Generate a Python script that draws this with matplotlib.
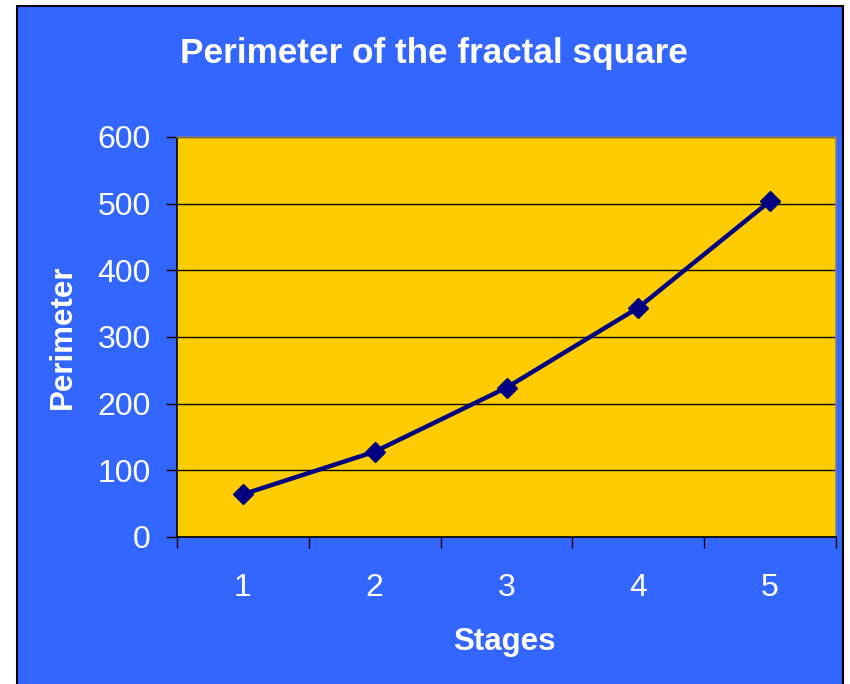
"""Perimeter of the fractal square — Excel-style line chart on blue/yellow."""

import matplotlib
matplotlib.use("Agg")
import matplotlib.pyplot as plt
from matplotlib.patches import Rectangle

# ----------------------------------------------------------------------------
# Data
# ----------------------------------------------------------------------------
STAGES = [1, 2, 3, 4, 5]
PERIMETER = [64, 128, 224, 344, 504]
Y_TICKS = [0, 100, 200, 300, 400, 500, 600]

BLUE = "#3366FF"
YELLOW = "#FFCC00"
NAVY = "#000080"

plt.rcParams["font.family"] = ["Liberation Sans", "DejaVu Sans"]

W, H = 850, 684
fig = plt.figure(figsize=(W / 100, H / 100), dpi=100)
fig.patch.set_facecolor("white")

# blue chart area with a thin black frame
fig.add_artist(Rectangle(
    (17 / W, -10 / H), (843 - 17) / W, (684 + 10 - 6) / H,
    transform=fig.transFigure, facecolor=BLUE, edgecolor="black",
    linewidth=1.5, zorder=0,
))

ax = fig.add_axes([177 / W, (H - 537) / H, 659 / W, 400 / H])
ax.set_facecolor(YELLOW)

ax.plot(STAGES, PERIMETER, color=NAVY, linewidth=3.2,
        marker="D", markersize=10.5, markeredgecolor=NAVY,
        markerfacecolor=NAVY, zorder=3, clip_on=False)

ax.set_xlim(0.5, 5.5)
ax.set_ylim(0, 600)

# category ticks sit between the stages, labels at the centres
ax.set_xticks([s - 0.5 for s in STAGES] + [STAGES[-1] + 0.5])
ax.set_xticklabels([])
ax.set_xticks(STAGES, minor=True)
ax.set_xticklabels([str(s) for s in STAGES], minor=True)
ax.tick_params(axis="x", which="major", direction="out", length=8,
               width=1, color="black")
ax.tick_params(axis="x", which="minor", length=0, pad=26,
               labelsize=23, labelcolor="white")

ax.set_yticks(Y_TICKS)
ax.set_yticklabels([str(v) for v in Y_TICKS])
ax.tick_params(axis="y", direction="out", length=8, width=1, color="black",
               pad=11, labelsize=23, labelcolor="white")

ax.yaxis.grid(True, color="black", linewidth=1.0, zorder=1)
ax.set_axisbelow(True)

for side in ("left", "bottom"):
    ax.spines[side].set_color("black")
    ax.spines[side].set_linewidth(1.2)
for side in ("top", "right"):
    ax.spines[side].set_color("#808080")
    ax.spines[side].set_linewidth(1.2)

ax.set_xlabel("Stages", fontsize=22.5, fontweight="bold", color="white",
              va="baseline")
ax.xaxis.set_label_coords(0.497, (537 - 650) / 400)
ax.set_ylabel("Perimeter", fontsize=22.5, fontweight="bold", color="white",
              va="center")
ax.yaxis.set_label_coords((63 - 177) / 659, 0.5)

fig.text(434 / W, 1 - 63 / H, "Perimeter of the fractal square",
         fontsize=25.3, fontweight="bold", color="white",
         ha="center", va="baseline")

fig.savefig("out.png", dpi=100, facecolor="white")
